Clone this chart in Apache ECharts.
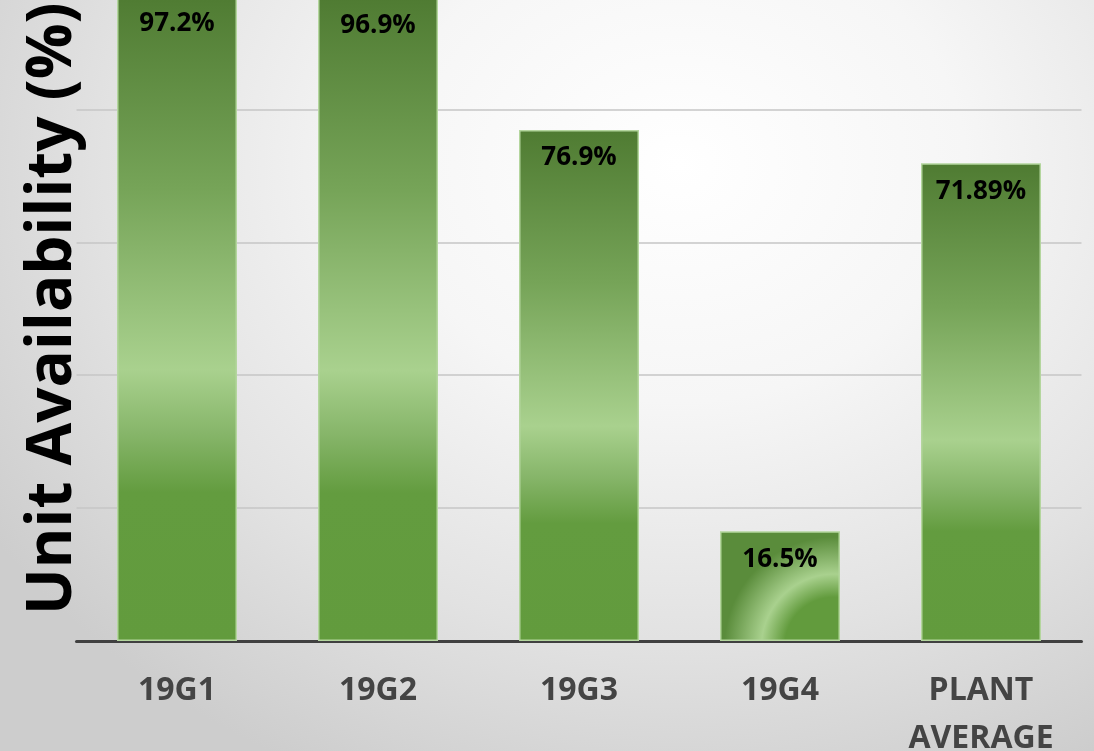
<!DOCTYPE html>
<html>
<head>
<meta charset="utf-8">
<script src="https://cdn.jsdelivr.net/npm/echarts@6/dist/echarts.min.js"></script>
<style>
  html, body { margin: 0; padding: 0; }
  #chart {
    width: 1094px; height: 751px;
    background: radial-gradient(ellipse 75% 90% at 62% 22%, #ffffff 0%, #f6f6f6 35%, #e2e2e2 70%, #cdcdcd 100%);
  }
</style>
</head>
<body>
<div id="chart"></div>
<script>
const units = ['19G1', '19G2', '19G3', '19G4', 'PLANT\nAVERAGE']
const availability = [97.2, 96.9, 76.9, 16.5, 71.89]
const labelText = ['97.2%', '96.9%', '76.9%', '16.5%', '71.89%']

const chart = echarts.init(document.getElementById('chart'), null, { renderer: 'canvas' })

const barFill = new echarts.graphic.LinearGradient(0, 0, 0, 1, [
  { offset: 0, color: '#4f7b32' },
  { offset: 0.3, color: '#76a458' },
  { offset: 0.58, color: '#a9d18e' },
  { offset: 0.68, color: '#86b569' },
  { offset: 0.77, color: '#639c3f' },
  { offset: 1, color: '#629b3d' }
])
// the small bar has a radial sheen instead
const smallFill = new echarts.graphic.RadialGradient(0.95, 1.05, 1.0, [
  { offset: 0, color: '#629b3d' },
  { offset: 0.45, color: '#629b3d' },
  { offset: 0.66, color: '#a9d18e' },
  { offset: 1, color: '#5a8c3b' }
])

chart.setOption({
  animation: false,
  grid: { left: 76.5, right: 12.5, top: -23.5, bottom: 110, outerBoundsMode: 'none' },
  xAxis: {
    type: 'category',
    data: units,
    axisTick: { show: false },
    axisLine: { lineStyle: { color: '#404040', width: 3 } },
    axisLabel: {
      interval: 0, margin: 26,
      fontFamily: 'Open Sans', fontWeight: 'bold', fontSize: 32,
      lineHeight: 48, color: '#444444'
    }
  },
  yAxis: {
    type: 'value', min: 0, max: 100, interval: 20,
    axisLabel: { show: false },
    axisLine: { show: false },
    axisTick: { show: false },
    splitLine: { lineStyle: { color: '#c6c6c6', width: 1.5 } },
    name: 'Unit Availability (%)',
    nameLocation: 'middle',
    nameGap: -8,
    nameTextStyle: { fontFamily: 'Open Sans', fontWeight: 'bold', fontSize: 62, color: '#000000' }
  },
  series: [{
    type: 'bar',
    barWidth: 120,
    data: availability.map((v, i) => ({
      value: v,
      itemStyle: { color: i === 3 ? smallFill : barFill }
    })),
    itemStyle: { borderColor: '#b4d69e', borderWidth: 1.5 },
    label: {
      show: true, position: 'insideTop', distance: 15,
      fontFamily: 'Open Sans', fontWeight: 'bold', fontSize: 26, color: '#000000',
      formatter: p => labelText[p.dataIndex]
    }
  }]
})
</script>
</body>
</html>
